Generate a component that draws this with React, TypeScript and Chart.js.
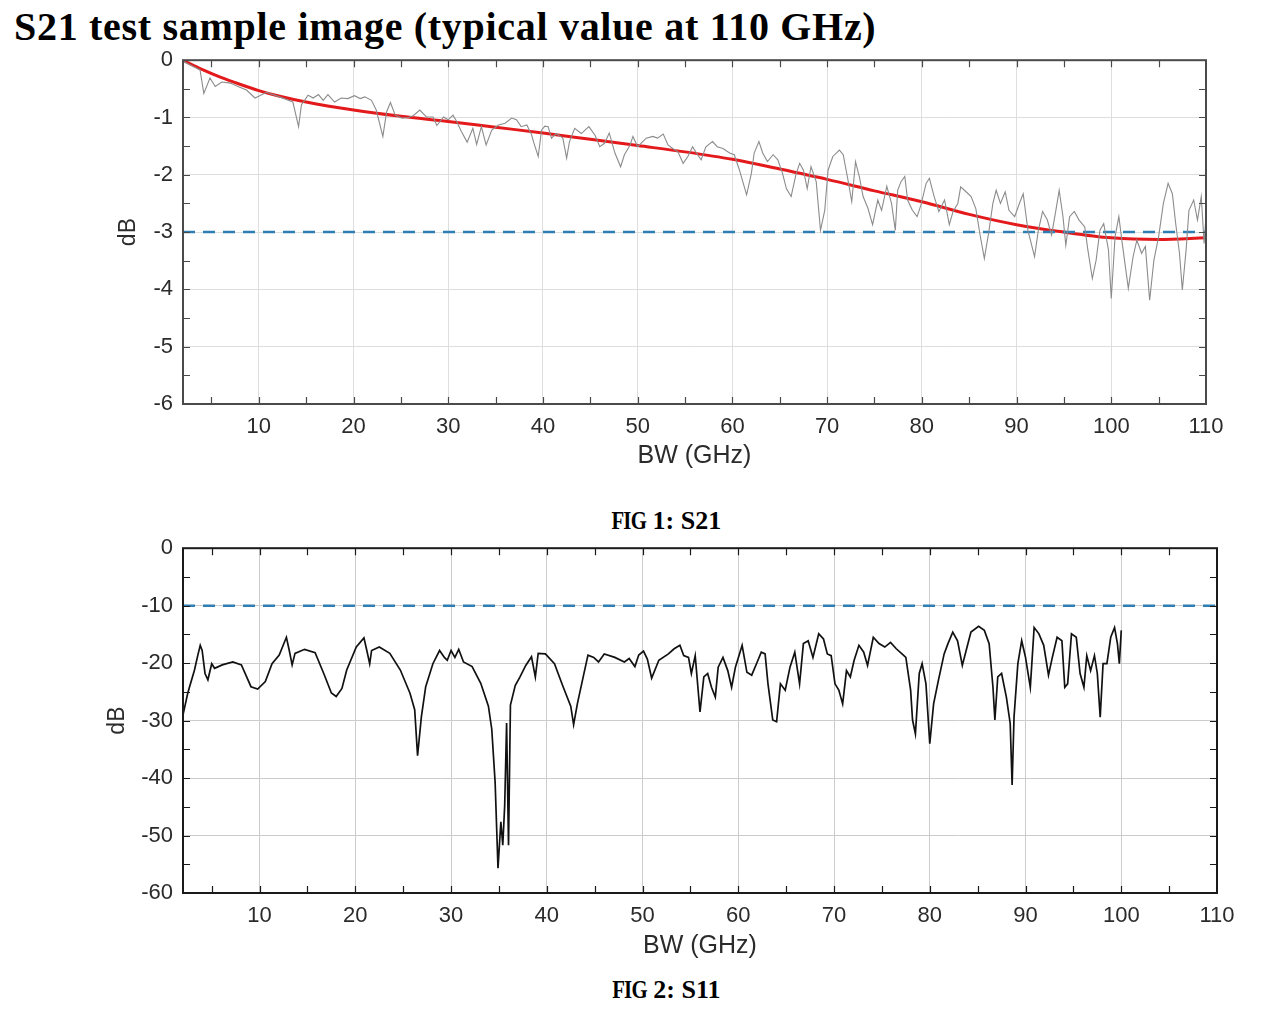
import React, { useEffect, useRef } from 'react';
import Chart from 'chart.js/auto';

const s21Freq = [
  2, 3, 3.8, 4.2, 4.85, 5.4, 6.1, 7.0, 7.8, 8.7, 9.6, 10.1, 10.8, 12.2, 13.6, 14.2, 14.5, 15.2, 15.75, 16.3,
  16.8, 17.3, 18.0, 18.7, 19.4, 20.1, 20.7, 21.2, 21.9, 22.4, 23.1, 23.5, 23.9, 24.4, 25.1, 25.8, 26.3, 27.0,
  27.7, 28.4, 28.8, 29.5, 30.0, 30.5, 30.9, 31.4, 32.0, 32.6, 33.0, 33.5, 34.0, 34.6, 35.3, 36.0, 36.7, 37.2,
  37.7, 38.3, 38.8, 39.0, 39.5, 39.85, 40.2, 40.55, 40.9, 41.4, 42.1, 42.5, 42.8, 43.35, 44.05, 44.85, 45.5,
  46.0, 46.5, 47.0, 47.6, 48.2, 48.6, 49.2, 49.5, 50.0, 50.9, 51.6, 52.1, 52.7, 53.2, 53.7, 54.25, 54.8, 55.3,
  55.8, 56.2, 56.7, 57.2, 57.9, 58.4, 59.0, 59.7, 60.2, 60.75, 61.5, 62.0, 62.3, 62.8, 63.2, 63.7, 64.3, 64.8,
  65.3, 65.7, 66.2, 66.7, 67.1, 67.5, 67.9, 68.3, 68.85, 69.3, 69.75, 70.1, 70.6, 71.3, 71.7, 72.2, 72.6, 73.0,
  73.4, 73.8, 74.3, 74.8, 75.35, 75.75, 76.3, 76.8, 77.2, 77.45, 77.8, 78.2, 78.5, 79.0, 79.5, 79.9, 80.45,
  80.8, 81.3, 81.8, 82.4, 82.9, 83.3, 83.8, 84.1, 84.7, 85.2, 85.7, 86.15, 86.6, 87.05, 87.5, 87.85, 88.3,
  88.8, 89.2, 89.8, 90.3, 90.7, 91.2, 91.9, 92.3, 92.75, 93.25, 93.7, 94.15, 94.5, 94.9, 95.2, 95.6, 96.1,
  96.6, 97.2, 97.5, 98.0, 98.4, 98.8, 99.2, 99.7, 100.0, 100.4, 100.8, 101.2, 101.8, 102.3, 102.7, 103.2,
  103.6, 104.05, 104.5, 105.0, 105.5, 106.0, 106.45, 106.8, 107.2, 107.5, 107.9, 108.2, 108.7, 109.1, 109.5,
  109.8, 110,
];
const s21Meas = [
  -0.02, -0.1, -0.17, -0.58, -0.31, -0.46, -0.38, -0.4, -0.46, -0.52, -0.66, -0.62, -0.56, -0.64, -0.73, -1.16, -0.78, -0.61, -0.66, -0.6,
  -0.7, -0.6, -0.73, -0.66, -0.67, -0.62, -0.67, -0.64, -0.7, -0.87, -1.33, -0.9, -0.74, -0.96, -1.01, -1.0, -0.97, -0.87,
  -0.99, -0.99, -1.14, -0.99, -1.04, -0.96, -1.07, -1.25, -1.43, -1.19, -1.47, -1.16, -1.48, -1.22, -1.13, -1.1, -1.01, -1.04,
  -1.16, -1.13, -1.3, -1.42, -1.68, -1.22, -1.15, -1.16, -1.36, -1.28, -1.36, -1.71, -1.42, -1.19, -1.28, -1.16, -1.31,
  -1.51, -1.45, -1.27, -1.62, -1.86, -1.65, -1.48, -1.33, -1.51, -1.36, -1.33, -1.36, -1.29, -1.48, -1.54, -1.6, -1.8, -1.68,
  -1.51, -1.62, -1.74, -1.51, -1.42, -1.51, -1.54, -1.62, -1.65, -1.92, -2.35, -1.98, -1.62, -1.42, -1.62, -1.77, -1.65, -1.74,
  -1.98, -2.24, -2.38, -2.0, -1.8, -1.92, -2.24, -1.86, -2.12, -2.97, -2.62, -1.92, -1.68, -1.57, -1.65, -2.09, -2.47, -1.77,
  -2.03, -2.38, -2.58, -2.87, -2.44, -2.62, -2.2, -2.5, -2.97, -2.27, -2.12, -2.03, -2.44, -2.62, -2.73, -2.53, -2.15,
  -2.06, -2.38, -2.64, -2.44, -2.87, -2.64, -2.5, -2.21, -2.3, -2.38, -2.59, -3.05, -3.46, -3.02, -2.5, -2.27, -2.5,
  -2.3, -2.62, -2.73, -2.5, -2.33, -2.97, -3.43, -2.97, -2.64, -2.79, -3.05, -2.62, -2.27, -2.73, -3.23, -2.73, -2.64,
  -2.79, -2.91, -3.28, -3.81, -3.49, -2.97, -2.85, -3.31, -4.16, -3.08, -2.73, -3.25, -3.98, -3.43, -3.14, -3.37,
  -3.25, -4.19, -3.49, -3.08, -2.5, -2.15, -2.33, -2.85, -3.37, -4.01, -3.31, -2.62, -2.44, -2.79, -2.38,
  -3.2, -2.73,
];

// S21 smooth fit (red)
const s21FitFreq = [2, 4, 6, 8, 10, 12, 15, 20, 25, 30, 35, 40, 45, 50, 55, 60, 65, 70, 75, 80, 85, 90, 95, 100, 105, 110];
const s21Fit = [
  0, -0.16, -0.3, -0.42, -0.53, -0.62, -0.73, -0.87, -0.98, -1.07, -1.17, -1.27, -1.38, -1.49, -1.6, -1.73, -1.9,
  -2.08, -2.28, -2.47, -2.69, -2.87, -3.0, -3.1, -3.13, -3.1,
];
const s21Limit = -3;
const s21XTicks = [10, 20, 30, 40, 50, 60, 70, 80, 90, 100, 110];
const s21YTicks = [0, -1, -2, -3, -4, -5, -6];

// S11 trace (GHz, dB)
const s11Freq = [
  2, 2.5, 3.2, 3.55, 3.8, 4.0, 4.3, 4.6, 5.0, 5.3, 6.1, 7.2, 8.1, 9.1, 9.8, 10.6, 11.3, 12.05, 12.8, 13.1, 13.4,
  13.7, 14.7, 15.8, 16.7, 17.5, 18.0, 18.6, 19.1, 20.1, 20.9, 21.2, 21.5, 21.7, 22.5, 23.6, 24.7, 25.7, 26.2,
  26.5, 26.9, 27.35, 28.1, 28.8, 29.3, 29.6, 30.0, 30.4, 30.8, 31.3, 32.2, 33.1, 33.9, 34.25, 34.6, 34.9, 35.2,
  35.4, 35.6, 35.8, 36.0, 36.2, 36.7, 37.2, 37.8, 38.4, 38.8, 39.1, 39.85, 40.8, 41.7, 42.5, 42.8, 43.2, 43.8,
  44.3, 44.9, 45.4, 46.0, 47.1, 48.1, 48.6, 49.2, 49.6, 50.1, 50.5, 50.95, 51.7, 52.7, 53.3, 53.9, 54.3, 54.8,
  55.1, 55.5, 56.0, 56.4, 56.8, 57.2, 57.6, 57.9, 58.4, 58.9, 59.3, 59.7, 60.4, 60.9, 61.4, 61.9, 62.4, 62.8,
  63.1, 63.6, 64.0, 64.4, 64.9, 65.4, 65.9, 66.4, 66.8, 67.3, 67.8, 68.4, 68.9, 69.3, 69.7, 70.1, 70.5, 70.9,
  71.3, 71.7, 72.1, 72.6, 73.1, 73.5, 74.1, 74.7, 75.3, 75.9, 76.5, 77.1, 77.5, 78.0, 78.2, 78.5, 78.9, 79.2,
  79.6, 80.0, 80.4, 80.9, 81.5, 81.9, 82.4, 82.9, 83.4, 83.8, 84.3, 85.1, 85.7, 86.2, 86.6, 86.8, 87.1, 87.5,
  88.0, 88.4, 88.6, 88.8, 89.2, 89.6, 90.0, 90.5, 90.9, 91.4, 91.9, 92.4, 92.8, 93.3, 93.8, 94.1, 94.4, 94.8,
  95.3, 95.7, 96.1, 96.4, 96.8, 97.2, 97.5, 97.8, 98.1, 98.5, 98.9, 99.3, 99.6, 99.8, 100.0,
];
const s11Db = [
  -29, -25.2, -21.2, -18.6, -16.9, -17.8, -21.8, -22.9, -20.1, -20.9, -20.3, -19.8, -20.3, -24.1, -24.5, -23.2, -20.1, -18.6, -15.5, -17.8, -20.3,
  -18.3, -17.6, -18.2, -21.8, -25.2, -25.8, -24.4, -21.2, -17.2, -15.6, -17.8, -20.1, -17.8, -17.2, -18.3, -21.2, -25.2, -28.1,
  -36.1, -29.3, -24.1, -20.1, -17.8, -19.0, -19.5, -17.8, -19.0, -17.6, -19.8, -20.6, -23.5, -27.5, -31.5, -40.7, -55.7, -47.6,
  -51.7, -44.8, -30.4, -51.7, -27.3, -23.9, -22.4, -20.4, -18.9, -22.4, -18.3, -18.4, -20.1, -24.1, -27.5, -30.7, -27.0, -22.4,
  -18.6, -19.0, -19.8, -18.4, -19.0, -19.8, -19.2, -20.6, -18.6, -17.9, -19.3, -22.6, -19.5, -18.4, -17.5, -16.9, -18.7, -19.0,
  -21.8, -18.7, -28.5, -22.4, -21.8, -24.2, -25.9, -20.7, -19.0, -21.3, -24.2, -20.7, -16.9, -21.6, -22.1, -20.1, -18.1, -18.4,
  -23.6, -29.9, -30.2, -23.6, -24.7, -20.7, -18.1, -23.6, -16.6, -16.1, -19.0, -14.9, -15.8, -18.4, -18.7, -23.6, -24.7, -27.1,
  -21.3, -22.4, -19.5, -16.9, -18.1, -20.4, -15.5, -16.6, -17.2, -16.4, -17.5, -18.4, -19.0, -24.7, -29.9, -32.3, -21.8, -20.1,
  -23.6, -34.0, -27.1, -23.0, -18.4, -16.6, -14.6, -16.1, -20.4, -17.8, -14.6, -13.6, -14.3, -16.6, -24.2, -29.9, -22.4, -21.8,
  -25.9, -30.5, -41.2, -29.4, -20.1, -16.1, -19.0, -24.2, -13.8, -14.9, -16.9, -22.1, -19.0, -15.5, -16.1, -24.2, -23.6, -14.9,
  -15.5, -21.8, -24.2, -18.7, -21.3, -18.7, -21.8, -29.4, -20.1, -20.1, -15.5, -13.8, -16.6, -20.1, -14.3,
];
const s11Limit = -10;
const s11XTicks = [10, 20, 30, 40, 50, 60, 70, 80, 90, 100, 110];
const s11YTicks = [0, -10, -20, -30, -40, -50, -60];

const FREQ_MIN = 2;
const FREQ_MAX = 110;

Chart.defaults.font.family = "'Liberation Sans', Arial, sans-serif";

// inward ticks on all four sides plus a closed frame, MATLAB style
const makeFrame = (xStep: number, yStep: number, color: string, width: number) => ({
  id: 'frame',
  afterDraw(chart: any) {
    const { ctx, chartArea: a, scales } = chart;
    const xs = scales.x;
    const ys = scales.y;
    const len = 7;
    ctx.save();
    ctx.strokeStyle = color;
    ctx.lineWidth = 1.2;
    ctx.beginPath();
    for (let v = Math.ceil(xs.min / xStep) * xStep; v < xs.max - 1e-6; v += xStep) {
      const px = Math.round(xs.getPixelForValue(v)) + 0.5;
      ctx.moveTo(px, a.top);
      ctx.lineTo(px, a.top + len);
      ctx.moveTo(px, a.bottom);
      ctx.lineTo(px, a.bottom - len);
    }
    for (let v = ys.min + yStep; v < ys.max - 1e-6; v += yStep) {
      const py = Math.round(ys.getPixelForValue(v)) + 0.5;
      ctx.moveTo(a.left, py);
      ctx.lineTo(a.left + len, py);
      ctx.moveTo(a.right, py);
      ctx.lineTo(a.right - len, py);
    }
    ctx.stroke();
    ctx.lineWidth = width;
    ctx.strokeRect(a.left, a.top, a.right - a.left, a.bottom - a.top);
    ctx.restore();
  },
});

interface PlotProps {
  datasets: any[];
  xTicks: number[];
  yTicks: number[];
  top: number;
  height: number;
  padLeft: number;
  padTop: number;
  padRight: number;
  yWidth: number;
  xHeight: number;
  gridColor: string;
  frameColor: string;
  yMinorStep: number;
}

const Plot: React.FC<PlotProps> = (p) => {
  const canvasRef = useRef<HTMLCanvasElement>(null);
  const chartInstance = useRef<Chart | null>(null);

  useEffect(() => {
    if (!canvasRef.current) return;
    if (chartInstance.current) chartInstance.current.destroy();

    const yMin = Math.min(...p.yTicks);
    const yMax = Math.max(...p.yTicks);

    chartInstance.current = new Chart(canvasRef.current, {
      type: 'line',
      data: { datasets: p.datasets },
      options: {
        animation: false,
        responsive: false,
        maintainAspectRatio: false,
        layout: { padding: { left: p.padLeft, top: p.padTop, right: p.padRight, bottom: 0 } },
        elements: { point: { radius: 0 } },
        plugins: { legend: { display: false }, tooltip: { enabled: false } },
        scales: {
          x: {
            type: 'linear',
            min: FREQ_MIN,
            max: FREQ_MAX,
            afterBuildTicks: (s: any) => {
              s.ticks = p.xTicks.map((v) => ({ value: v }));
            },
            afterFit: (s: any) => {
              s.height = p.xHeight;
            },
            grid: { color: p.gridColor, drawTicks: false, lineWidth: 1 },
            border: { display: false },
            ticks: { color: '#2b2b2b', font: { size: 22 }, padding: 10, maxRotation: 0, autoSkip: false },
            title: {
              display: true,
              text: 'BW (GHz)',
              color: '#2b2b2b',
              font: { size: 25 },
              padding: { top: 0, bottom: 13 },
            },
          },
          y: {
            type: 'linear',
            min: yMin,
            max: yMax,
            afterBuildTicks: (s: any) => {
              s.ticks = p.yTicks.map((v) => ({ value: v }));
            },
            afterFit: (s: any) => {
              s.width = p.yWidth;
            },
            grid: { color: p.gridColor, drawTicks: false, lineWidth: 1 },
            border: { display: false },
            ticks: { color: '#2b2b2b', font: { size: 22 }, padding: 10 },
            title: {
              display: true,
              text: 'dB',
              color: '#2b2b2b',
              font: { size: 23 },
              padding: { top: 5, bottom: 0 },
            },
          },
        },
      },
      plugins: [makeFrame(5, p.yMinorStep, p.frameColor, 2)],
    } as any);

    return () => {
      if (chartInstance.current) {
        chartInstance.current.destroy();
        chartInstance.current = null;
      }
    };
  }, [p]);

  return (
    <canvas
      ref={canvasRef}
      width={1264}
      height={p.height}
      style={{ position: 'absolute', left: 0, top: p.top, width: 1264, height: p.height }}
    />
  );
};

const toPoints = (xs: number[], ys: number[]) => xs.map((x, i) => ({ x, y: ys[i] }));

const limitLine = (v: number) => ({
  data: [
    { x: FREQ_MIN, y: v },
    { x: FREQ_MAX, y: v },
  ],
  borderColor: '#2e7db3',
  borderWidth: 2.5,
  borderDash: [12, 8],
});

const s21Datasets = [
  {
    data: toPoints(s21Freq, s21Meas),
    borderColor: '#8c8c8c',
    borderWidth: 1.1,
  },
  limitLine(s21Limit),
  {
    data: toPoints(s21FitFreq, s21Fit),
    borderColor: '#e3191c',
    borderWidth: 3,
    cubicInterpolationMode: 'monotone',
  },
];

const s11Datasets = [
  limitLine(s11Limit),
  {
    data: toPoints(s11Freq, s11Db),
    borderColor: '#111111',
    borderWidth: 1.7,
  },
];

const s21Props: PlotProps = {
  datasets: s21Datasets,
  xTicks: s21XTicks,
  yTicks: s21YTicks,
  top: 37,
  height: 447,
  padLeft: 110,
  padTop: 10,
  padRight: 58,
  yWidth: 73,
  xHeight: 80,
  gridColor: '#dedede',
  frameColor: '#4a4a4a',
  yMinorStep: 0.5,
};

const s11Props: PlotProps = {
  datasets: s11Datasets,
  xTicks: s11XTicks,
  yTicks: s11YTicks,
  top: 525,
  height: 449,
  padLeft: 99,
  padTop: 12,
  padRight: 47,
  yWidth: 84,
  xHeight: 81,
  gridColor: '#cccccc',
  frameColor: '#1a1a1a',
  yMinorStep: 5,
};

const captionStyle: React.CSSProperties = {
  position: 'absolute',
  left: 662,
  transform: 'translateX(-50%)',
  fontFamily: "'Liberation Serif', 'Times New Roman', serif",
  fontWeight: 'bold',
  fontSize: 26,
  lineHeight: '26px',
  whiteSpace: 'nowrap',
  color: '#000',
};

const Caption: React.FC<{ top: number; num: string; label: string }> = ({ top, num, label }) => (
  <div style={{ ...captionStyle, top }}>
    <span style={{ display: 'inline-block', transform: 'scaleX(0.8)', transformOrigin: 'right center', letterSpacing: '-1px' }}>
      FIG
    </span>{' '}
    {num}: {label}
  </div>
);

export default function App() {
  return (
    <div style={{ position: 'absolute', left: 0, top: 0, width: 1264, height: 1017, background: '#fff' }}>
      <div
        style={{
          position: 'absolute',
          left: 14,
          top: 7,
          fontFamily: "'Liberation Serif', 'Times New Roman', serif",
          fontWeight: 'bold',
          fontSize: 40,
          lineHeight: '40px',
          letterSpacing: '0.7px',
          whiteSpace: 'nowrap',
          color: '#000',
        }}
      >
        S21 test sample image (typical value at 110 GHz)
      </div>
      <Plot {...s21Props} />
      <Caption top={508} num="1" label="S21" />
      <Plot {...s11Props} />
      <Caption top={977} num="2" label="S11" />
    </div>
  );
}
